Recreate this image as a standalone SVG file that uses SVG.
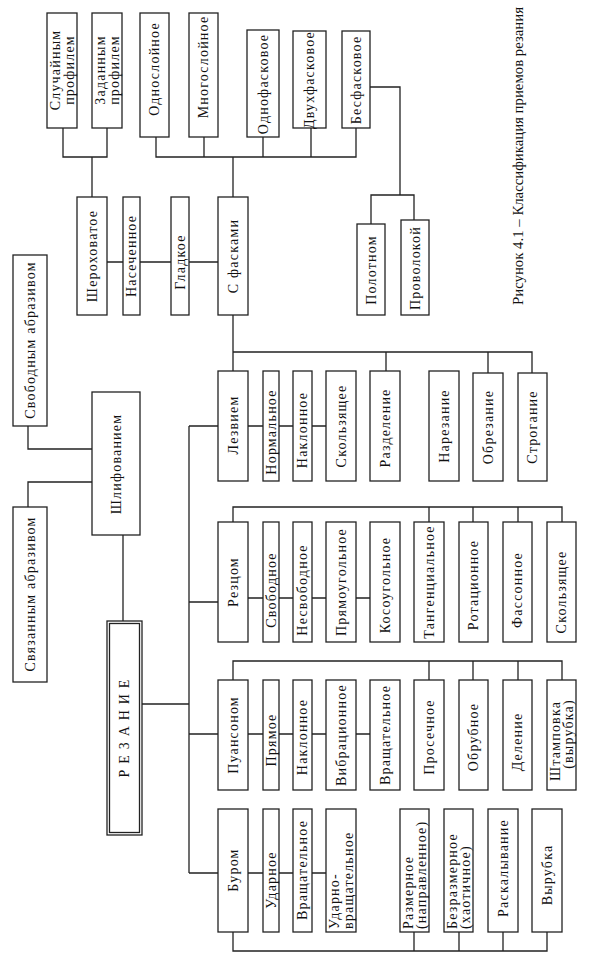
<svg xmlns="http://www.w3.org/2000/svg" width="590" height="957" viewBox="0 0 590 957">
<style>
rect{fill:#fff;stroke:#222;stroke-width:1.3}
.c path{fill:none;stroke:#222;stroke-width:1.3}
text{font-family:"Liberation Serif","Times New Roman",serif;font-size:14px;fill:#111;letter-spacing:1.2px;dominant-baseline:central;text-anchor:middle}
.s{text-anchor:start}
.cap{font-size:14px;letter-spacing:0;text-anchor:start}
</style>
<rect x="0" y="0" width="590" height="957" style="stroke:none"/>
<g class="c" id="connectors">
<path d="M63,128V157H107V128M92,157V197"/>
<path d="M156,137V157H356V128M204,137V157M263,137V157M311,128V157M233,157V197"/>
<path d="M107,262H123M140,262H171M189,262H218"/>
<path d="M370,87H400V195M371,224V195H414V220"/>
<path d="M233,315V371M233,352H532V373M386,352V371M488,352V373"/>
<path d="M248,426H263M279,426H293M312,426H326"/>
<path d="M28,426V449H92M28,507V482H92M123,535V621"/>
<path d="M142,704H189M189,426V873M189,426H218M189,602H218M189,734H218M189,873H218"/>
<path d="M233,522V507H562V522M429,507V522M473,507V522M518,507V522"/>
<path d="M248,598H263M279,598H293M312,598H326M356,598H370"/>
<path d="M233,680V661H562V680M429,661V680M473,661V680M518,661V680"/>
<path d="M248,734H263M279,734H293M312,734H326M356,734H370"/>
<path d="M248,873H263M279,873H293M312,873H326"/>
<path d="M233,932V951H547V932M414,932V951M459,932V951M503,932V951"/>
</g>
<g id="sluch"><rect x="47" y="13" width="30" height="115"/><text transform="translate(55,70) rotate(-90)">Случайным</text><text transform="translate(69,70) rotate(-90)">профилем</text></g>
<g id="zadan"><rect x="92" y="13" width="30" height="115"/><text transform="translate(100,70) rotate(-90)">Заданным</text><text transform="translate(114,70) rotate(-90)">профилем</text></g>
<g id="odnosl"><rect x="140" y="13" width="29" height="124"/><text transform="translate(154.5,69) rotate(-90)">Однослойное</text></g>
<g id="mnogosl"><rect x="189" y="13" width="29" height="124"/><text transform="translate(203.5,67) rotate(-90)">Многослойное</text></g>
<g id="odnof"><rect x="247" y="30" width="32" height="107"/><text transform="translate(263,84) rotate(-90)">Однофасковое</text></g>
<g id="dvuhf"><rect x="293" y="31" width="33" height="97"/><text transform="translate(309.5,80) rotate(-90)">Двухфасковое</text></g>
<g id="besf"><rect x="342" y="31" width="28" height="97"/><text transform="translate(356,80) rotate(-90)">Бесфасковое</text></g>
<g id="sherox"><rect x="77" y="197" width="30" height="118"/><text transform="translate(92,256) rotate(-90)">Шероховатое</text></g>
<g id="nasech"><rect x="123" y="197" width="17" height="118"/><text transform="translate(131.5,256) rotate(-90)">Насеченное</text></g>
<g id="gladk"><rect x="171" y="197" width="18" height="118"/><text transform="translate(180,262) rotate(-90)">Гладкое</text></g>
<g id="sfask"><rect x="218" y="197" width="30" height="118"/><text transform="translate(233,256) rotate(-90)">С фасками</text></g>
<g id="polot"><rect x="357" y="224" width="28" height="91"/><text transform="translate(371,270) rotate(-90)">Полотном</text></g>
<g id="provol"><rect x="401" y="220" width="28" height="95"/><text transform="translate(415,268) rotate(-90)">Проволокой</text></g>
<g id="svobabr"><rect x="13" y="255" width="34" height="171"/><text transform="translate(30,340) rotate(-90)">Свободным абразивом</text></g>
<g id="svyazabr"><rect x="13" y="507" width="34" height="175"/><text transform="translate(30,594) rotate(-90)">Связанным абразивом</text></g>
<g id="shlif"><rect x="92" y="392" width="48" height="143"/><text transform="translate(116,464) rotate(-90)">Шлифованием</text></g>
<g id="rezanie"><rect x="107" y="621" width="35" height="214"/><rect x="109.5" y="623.5" width="30" height="209"/><text transform="translate(124.5,728) rotate(-90)">Р Е З А Н И Е</text></g>
<g id="lezv"><rect x="218" y="371" width="30" height="110"/><text transform="translate(233,425) rotate(-90)">Лезвием</text></g>
<g id="norm"><rect x="263" y="371" width="16" height="110"/><text transform="translate(271,432) rotate(-90)">Нормальное</text></g>
<g id="naklon1"><rect x="293" y="371" width="19" height="110"/><text transform="translate(302.5,430) rotate(-90)">Наклонное</text></g>
<g id="skolz1"><rect x="326" y="371" width="30" height="110"/><text transform="translate(341,426) rotate(-90)">Скользящее</text></g>
<g id="razdel"><rect x="370" y="371" width="30" height="110"/><text transform="translate(385,428) rotate(-90)">Разделение</text></g>
<g id="narez"><rect x="429" y="371" width="30" height="110"/><text transform="translate(444,426) rotate(-90)">Нарезание</text></g>
<g id="obrez"><rect x="473" y="373" width="30" height="108"/><text transform="translate(488,427) rotate(-90)">Обрезание</text></g>
<g id="strog"><rect x="518" y="373" width="29" height="108"/><text transform="translate(532.5,427) rotate(-90)">Строгание</text></g>
<g id="rezc"><rect x="218" y="522" width="30" height="120"/><text transform="translate(233,582) rotate(-90)">Резцом</text></g>
<g id="svobod"><rect x="263" y="522" width="16" height="120"/><text transform="translate(271,590) rotate(-90)">Свободное</text></g>
<g id="nesvob"><rect x="293" y="522" width="19" height="120"/><text transform="translate(302.5,590) rotate(-90)">Несвободное</text></g>
<g id="pryamoug"><rect x="326" y="522" width="30" height="120"/><text transform="translate(341,582) rotate(-90)">Прямоугольное</text></g>
<g id="kosoug"><rect x="370" y="522" width="30" height="120"/><text transform="translate(385,585) rotate(-90)">Косоугольное</text></g>
<g id="tang"><rect x="414" y="522" width="30" height="120"/><text transform="translate(429,582) rotate(-90)">Тангенциальное</text></g>
<g id="rotac"><rect x="459" y="522" width="29" height="120"/><text transform="translate(473.5,585) rotate(-90)">Ротационное</text></g>
<g id="fass"><rect x="503" y="522" width="29" height="120"/><text transform="translate(517.5,590) rotate(-90)">Фассонное</text></g>
<g id="skolz2"><rect x="547" y="522" width="29" height="120"/><text transform="translate(561.5,592) rotate(-90)">Скользящее</text></g>
<g id="puans"><rect x="218" y="680" width="30" height="110"/><text transform="translate(233,735) rotate(-90)">Пуансоном</text></g>
<g id="pryam"><rect x="263" y="680" width="16" height="110"/><text transform="translate(271,740) rotate(-90)">Прямое</text></g>
<g id="naklon2"><rect x="293" y="680" width="19" height="110"/><text transform="translate(302.5,737) rotate(-90)">Наклонное</text></g>
<g id="vibr"><rect x="326" y="680" width="30" height="110"/><text transform="translate(341,735) rotate(-90)">Вибрационное</text></g>
<g id="vrasch1"><rect x="370" y="680" width="30" height="110"/><text transform="translate(385,735) rotate(-90)">Вращательное</text></g>
<g id="prosech"><rect x="414" y="680" width="30" height="110"/><text transform="translate(429,737) rotate(-90)">Просечное</text></g>
<g id="obrub"><rect x="459" y="680" width="29" height="110"/><text transform="translate(473.5,737) rotate(-90)">Обрубное</text></g>
<g id="delen"><rect x="503" y="680" width="29" height="110"/><text transform="translate(517.5,742) rotate(-90)">Деление</text></g>
<g id="shtamp"><rect x="547" y="680" width="29" height="110"/><text transform="translate(555,741) rotate(-90)">Штамповка</text><text transform="translate(568,734) rotate(-90)">(вырубка)</text></g>
<g id="burom"><rect x="218" y="809" width="30" height="123"/><text transform="translate(233,870) rotate(-90)">Буром</text></g>
<g id="udarn"><rect x="263" y="809" width="16" height="123"/><text transform="translate(271,880) rotate(-90)">Ударное</text></g>
<g id="vrasch2"><rect x="293" y="809" width="19" height="123"/><text transform="translate(302.5,870) rotate(-90)">Вращательное</text></g>
<g id="udvr"><rect x="326" y="809" width="30" height="123"/><text class="s" transform="translate(334,929) rotate(-90)">Ударно-</text><text class="s" transform="translate(348,929) rotate(-90)">вращательное</text></g>
<g id="razm"><rect x="400" y="809" width="29" height="123"/><text class="s" transform="translate(408,929) rotate(-90)">Размерное</text><text class="s" transform="translate(421,929) rotate(-90)">(направленное)</text></g>
<g id="bezrazm"><rect x="444" y="809" width="29" height="123"/><text class="s" transform="translate(452,929) rotate(-90)">Безразмерное</text><text class="s" transform="translate(465,929) rotate(-90)">(хаотичное)</text></g>
<g id="raskal"><rect x="488" y="809" width="30" height="123"/><text transform="translate(503,868) rotate(-90)">Раскалывание</text></g>
<g id="vyrub"><rect x="532" y="809" width="30" height="123"/><text transform="translate(547,875) rotate(-90)">Вырубка</text></g>
<text class="cap" transform="translate(518,305) rotate(-90)" textLength="298" lengthAdjust="spacingAndGlyphs">Рисунок 4.1 – Классификация приемов резания</text>
</svg>
